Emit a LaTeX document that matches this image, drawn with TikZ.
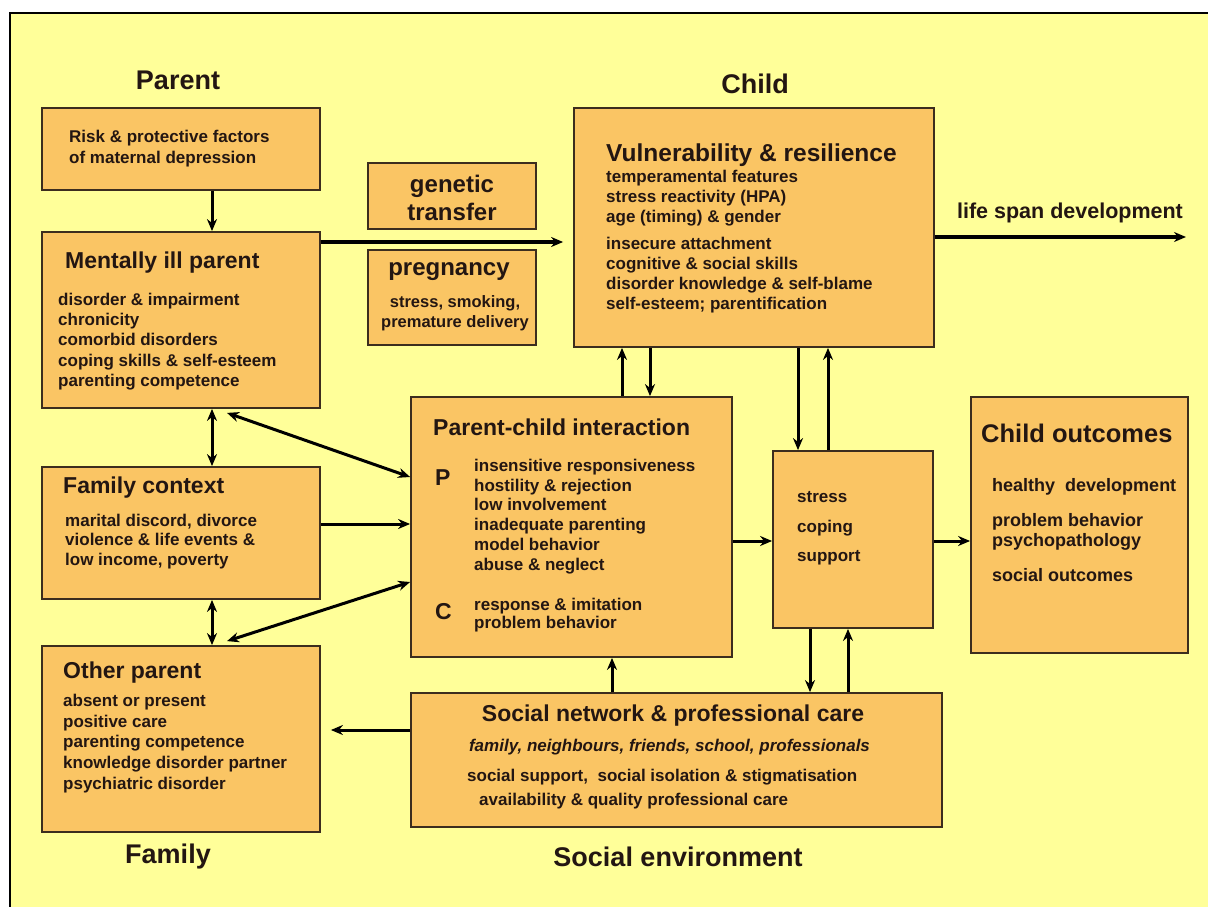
\documentclass[tikz,border=0pt]{standalone}
\usepackage{fontspec}
\setmainfont{Liberation Sans}
\usetikzlibrary{arrows.meta}
\definecolor{paper}{RGB}{255,255,153}
\definecolor{boxfill}{RGB}{250,197,100}
\definecolor{boxline}{RGB}{60,45,30}
\definecolor{ink}{RGB}{35,22,18}

\begin{document}
\begin{tikzpicture}[x=1pt,y=-1pt,
  box/.style={draw=boxline, fill=boxfill, line width=1.8pt, inner sep=0pt},
  head/.style={font=\fontsize{27}{30}\selectfont\bfseries, text=ink, inner sep=0pt},
  title/.style={font=\fontsize{23}{26}\selectfont\bfseries, text=ink, anchor=west, inner sep=0pt},
  body/.style={font=\fontsize{17}{#1}\selectfont\bfseries, text=ink, anchor=west, align=left, inner sep=0pt},
  body/.default=20.3,
  arr/.style={-{Stealth[length=12pt,width=10pt]}, line width=3pt},
  darr/.style={{Stealth[length=12pt,width=10pt]}-{Stealth[length=12pt,width=10pt]}, line width=3pt}]
\useasboundingbox (0,0) rectangle (1208,907);
\fill[white] (0,0) rectangle (1208,907);
\clip (0,0) rectangle (1208,907);
\fill[paper] (10,13) rectangle (1220,920);
\draw[line width=1.5pt] (1220,13) -- (10,13) -- (10,920);

% headings
\node[head] (hparent) at (178,80) {Parent};
\node[head] (hchild) at (755,84) {Child};
\node[head] (hfamily) at (168,857) {Family};
\node[head] (hsocial) at (678,857) {Social environment};

% parent column
\node[box, minimum width=278pt, minimum height=82pt] (risk) at (181,149) {};
\node[body=21] (risktxt) at (69,148.5) {Risk \& protective factors\\of maternal depression};
\node[box, minimum width=278pt, minimum height=176pt] (ill) at (181,320) {};
\node[title] (illtitle) at (65,263) {Mentally ill parent};
\node[body] (illtxt) at (58,341.5) {disorder \& impairment\\chronicity\\comorbid disorders\\coping skills \& self-esteem\\parenting competence};
\node[box, minimum width=278pt, minimum height=132pt] (fam) at (181,533) {};
\node[title] (famtitle) at (63,488) {Family context};
\node[body=19.5] (famtxt) at (65,541.5) {marital discord, divorce\\violence \& life events \&\\low income, poverty};
\node[box, minimum width=278pt, minimum height=186pt] (other) at (181,739) {};
\node[title] (othertitle) at (63,673) {Other parent};
\node[body=20.8] (othertxt) at (63,743.5) {absent or present\\positive care\\parenting competence\\knowledge disorder partner\\psychiatric disorder};

% genetic / pregnancy
\node[box, minimum width=168pt, minimum height=66pt] (gen) at (452,196) {};
\node[font=\fontsize{24}{28}\selectfont\bfseries, text=ink, align=center, inner sep=0pt] (gentxt) at (452,198) {genetic\\transfer};
\node[box, minimum width=168pt, minimum height=95pt] (preg) at (452,297.5) {};
\node[font=\fontsize{24}{28}\selectfont\bfseries, text=ink, inner sep=0pt] (pregtitle) at (449,272) {pregnancy};
\node[body=20, anchor=center, align=center, font=\fontsize{16.5}{20}\selectfont\bfseries] (pregtxt) at (455,313) {stress, smoking,\\premature delivery};

% child
\node[box, minimum width=360pt, minimum height=239pt] (vul) at (754,227.5) {};
\node[title, font=\fontsize{24.5}{28}\selectfont\bfseries] (vultitle) at (606,155) {Vulnerability \& resilience};
\node[body=20] (vultxt) at (606,242) {temperamental features\\stress reactivity (HPA)\\age (timing) \& gender\\[7pt]insecure attachment\\cognitive \& social skills\\disorder knowledge \& self-blame\\self-esteem; parentification};
\coordinate (lifeend) at (1186,237);
\node[font=\fontsize{21.5}{25}\selectfont\bfseries, text=ink, inner sep=0pt] (lifetxt) at (1070,213) {life span development};

% interaction
\node[box, minimum width=321pt, minimum height=260pt] (pci) at (571.5,527) {};
\node[title] (pcititle) at (433,427) {Parent-child interaction};
\node[title] (pletter) at (435,478) {P};
\node[body=19.8] (ptxt) at (474,516.5) {insensitive responsiveness\\hostility \& rejection\\low involvement\\inadequate parenting\\model behavior\\abuse \& neglect};
\node[title] (cletter) at (435,612) {C};
\node[body=18] (ctxt) at (474,615) {response \& imitation\\problem behavior};

\node[box, minimum width=160pt, minimum height=177pt] (stress) at (853,539.5) {};
\node[body=29.5] (stresstxt) at (797,528.5) {stress\\coping\\support};

\node[box, minimum width=217pt, minimum height=256pt] (out) at (1079.5,525) {};
\node[title, font=\fontsize{25.5}{28}\selectfont\bfseries] (outtitle) at (981,433) {Child outcomes};
\node[body=20, font=\fontsize{18}{20}\selectfont\bfseries] (outtxt) at (992,530) {healthy\ \ development\\[15pt]problem behavior\\psychopathology\\[15pt]social outcomes};

% social environment
\node[box, minimum width=531pt, minimum height=134pt] (soc) at (676.5,760) {};
\node[font=\fontsize{23}{26}\selectfont\bfseries, text=ink, inner sep=0pt] (soctitle) at (673,716) {Social network \& professional care};
\node[font=\fontsize{17}{20}\selectfont\bfseries\itshape, text=ink, inner sep=0pt] (socnet) at (669.5,747) {family, neighbours, friends, school, professionals};
\node[body=24] (soctxt) at (467,789) {social support,\ \ social isolation \& stigmatisation\\\hspace*{12pt}availability \& quality professional care};

% connectors
\draw[arr] ([xshift=31pt]risk.south) -- ([xshift=31pt]ill.north);
\foreach \a/\b in {ill/fam, fam/other}
  \draw[darr] ([xshift=31pt]\a.south) -- ([xshift=31pt]\b.north);
\draw[darr] ([xshift=46pt,yshift=-4pt]ill.south) -- ([yshift=50pt]pci.west);
\draw[darr] ([xshift=46pt,yshift=4pt]other.north) -- ([yshift=-55pt]pci.west);
\draw[arr] ([yshift=9pt]fam.east) -- ([yshift=9pt]fam.east -| pci.west);
\draw[arr, line width=3.5pt, shorten >=10pt] ([yshift=78pt]ill.east) -- ([yshift=78pt]ill.east -| vul.west);
\draw[arr, line width=3.5pt] ([yshift=-9.5pt]vul.east) -- (lifeend);
\draw[arr] ([xshift=50.5pt]pci.north) -- ([xshift=50.5pt]pci.north |- vul.south);
\draw[arr] ([xshift=78.5pt]pci.north |- vul.south) -- ([xshift=78.5pt]pci.north);
\draw[arr] ([xshift=-55pt]stress.north |- vul.south) -- ([xshift=-55pt]stress.north);
\draw[arr] ([xshift=-25pt]stress.north) -- ([xshift=-25pt]stress.north |- vul.south);
\draw[arr] ([xshift=-43pt]stress.south) -- ([xshift=-43pt]stress.south |- soc.north);
\draw[arr] ([xshift=-5pt]stress.south |- soc.north) -- ([xshift=-5pt]stress.south);
\draw[arr] ([xshift=-64.5pt]soc.north) -- ([xshift=-64.5pt]soc.north |- pci.south);
\draw[arr] ([yshift=-14pt]pci.east) -- ([yshift=-14pt]pci.east -| stress.west);
\draw[arr] ([yshift=-1.5pt]stress.east) -- ([yshift=-1.5pt]stress.east -| out.west);
\draw[arr, shorten >=10pt] ([yshift=30pt]soc.west) -- ([yshift=30pt]soc.west -| other.east);
\end{tikzpicture}
\end{document}
